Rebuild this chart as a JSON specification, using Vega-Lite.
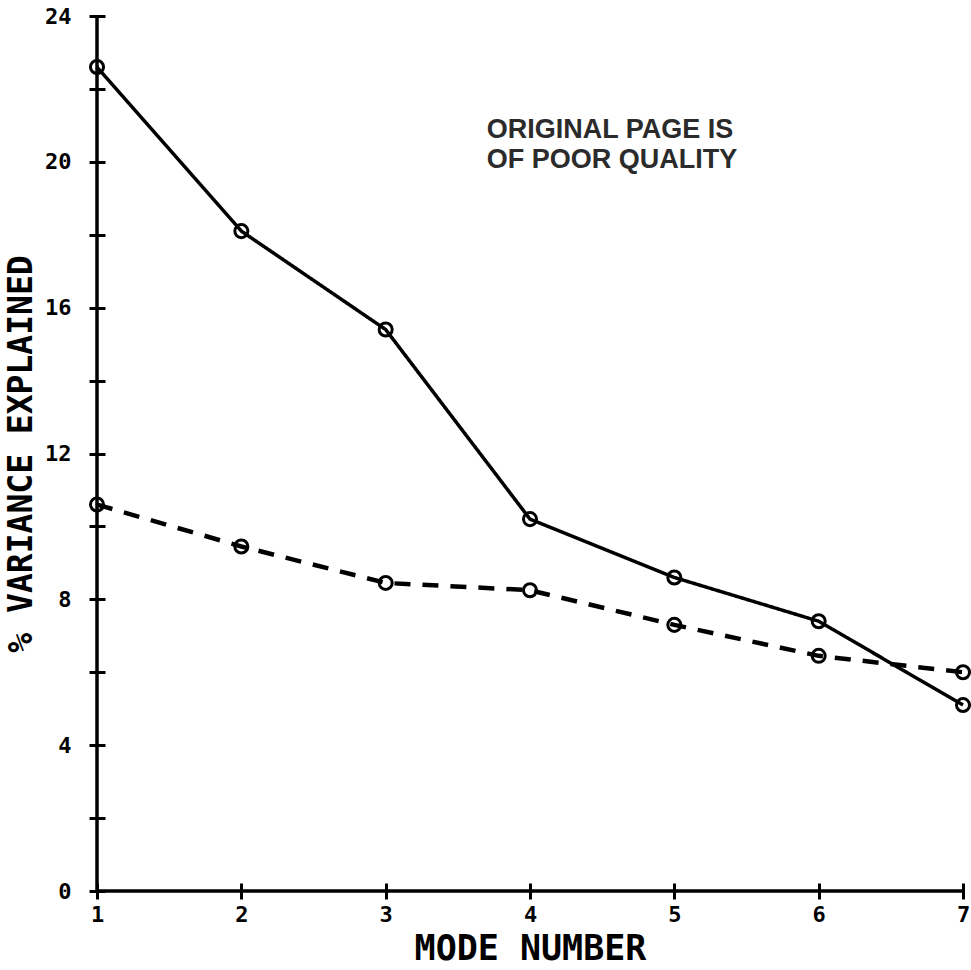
{
  "$schema": "https://vega.github.io/schema/vega-lite/v6.json",
  "width": 866,
  "height": 875,
  "autosize": {"type": "none"},
  "padding": {"left": 97, "top": 16, "right": 8, "bottom": 79},
  "background": "white",
  "config": {
    "view": {"stroke": null},
    "font": "DejaVu Sans Mono"
  },
  "datasets": {
    "modes": [
      {"mode": 1, "pct": 22.6, "series": "solid"},
      {"mode": 2, "pct": 18.1, "series": "solid"},
      {"mode": 3, "pct": 15.4, "series": "solid"},
      {"mode": 4, "pct": 10.2, "series": "solid"},
      {"mode": 5, "pct": 8.6, "series": "solid"},
      {"mode": 6, "pct": 7.4, "series": "solid"},
      {"mode": 7, "pct": 5.1, "series": "solid"},
      {"mode": 1, "pct": 10.6, "series": "dashed"},
      {"mode": 2, "pct": 9.45, "series": "dashed"},
      {"mode": 3, "pct": 8.45, "series": "dashed"},
      {"mode": 4, "pct": 8.25, "series": "dashed"},
      {"mode": 5, "pct": 7.3, "series": "dashed"},
      {"mode": 6, "pct": 6.45, "series": "dashed"},
      {"mode": 7, "pct": 6.0, "series": "dashed"}
    ],
    "stamp": [
      {"text": "ORIGINAL PAGE IS", "mode": 3.7, "pct": 20.87},
      {"text": "OF POOR QUALITY", "mode": 3.7, "pct": 20.05}
    ],
    "origin": [
      {"mode": 1, "pct": 0}
    ]
  },
  "layer": [
    {
      "data": {"name": "modes"},
      "mark": {"type": "line", "color": "black", "strokeCap": "butt"},
      "encoding": {
        "x": {
          "field": "mode",
          "type": "quantitative",
          "scale": {"domain": [1, 7], "nice": false, "zero": false},
          "axis": {
            "values": [1, 2, 3, 4, 5, 6, 7],
            "format": "d",
            "domain": false,
            "grid": false,
            "offset": -8,
            "tickSize": 16,
            "tickWidth": 3,
            "tickColor": "black",
            "labelFlush": false,
            "labelOverlap": false,
            "labelPadding": 5,
            "labelFont": "DejaVu Sans Mono",
            "labelFontWeight": "bold",
            "labelFontSize": 22,
            "labelColor": "black",
            "title": "MODE NUMBER",
            "titleFont": "DejaVu Sans Mono",
            "titleFontSize": 35,
            "titleFontWeight": "bold",
            "titleColor": "black",
            "titlePadding": 6
          }
        },
        "y": {
          "field": "pct",
          "type": "quantitative",
          "scale": {"domain": [0, 24], "nice": false},
          "axis": {
            "values": [0, 2, 4, 6, 8, 10, 12, 14, 16, 18, 20, 22, 24],
            "labelExpr": "datum.value % 4 === 0 ? datum.label : ''",
            "domain": false,
            "grid": false,
            "offset": -8,
            "tickSize": 16,
            "tickWidth": 3,
            "tickColor": "black",
            "labelOverlap": false,
            "labelFlush": false,
            "labelPadding": 18,
            "labelFont": "DejaVu Sans Mono",
            "labelFontWeight": "bold",
            "labelFontSize": 22,
            "labelColor": "black",
            "title": "% VARIANCE EXPLAINED",
            "titleFont": "DejaVu Sans Mono",
            "titleFontSize": 33,
            "titleFontWeight": "bold",
            "titleColor": "black",
            "titlePadding": 6
          }
        },
        "strokeDash": {
          "field": "series",
          "type": "nominal",
          "scale": {"domain": ["solid", "dashed"], "range": [[1, 0], [16, 12]]},
          "legend": null
        },
        "strokeWidth": {
          "field": "series",
          "type": "nominal",
          "scale": {"domain": ["solid", "dashed"], "range": [3.5, 4.5]},
          "legend": null
        }
      }
    },
    {
      "data": {"name": "modes"},
      "mark": {"type": "point", "shape": "circle", "filled": false, "color": "black", "strokeWidth": 3, "size": 170, "opacity": 1},
      "encoding": {
        "x": {"field": "mode", "type": "quantitative"},
        "y": {"field": "pct", "type": "quantitative"}
      }
    },
    {
      "data": {"name": "origin"},
      "mark": {"type": "rule", "color": "black", "strokeWidth": 3.5},
      "encoding": {"x": {"field": "mode", "type": "quantitative"}}
    },
    {
      "data": {"name": "origin"},
      "mark": {"type": "rule", "color": "black", "strokeWidth": 3.5},
      "encoding": {"y": {"field": "pct", "type": "quantitative"}}
    },
    {
      "data": {"name": "stamp"},
      "mark": {"type": "text", "align": "left", "baseline": "middle", "font": "Liberation Sans", "fontWeight": "bold", "fontSize": 27, "color": "#2b2b2b"},
      "encoding": {
        "x": {"field": "mode", "type": "quantitative"},
        "y": {"field": "pct", "type": "quantitative"},
        "text": {"field": "text"}
      }
    }
  ]
}
